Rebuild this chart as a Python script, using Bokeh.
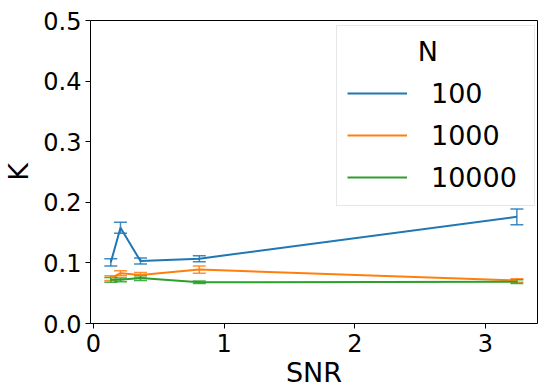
from bokeh.plotting import figure
from bokeh.models import (ColumnDataSource, Whisker, TeeHead, Legend, LegendItem,
                          FixedTicker, PrintfTickFormatter, Range1d, Label)
from bokeh.embed import file_html
from bokeh.resources import INLINE

snr = [0.133, 0.207, 0.36, 0.81, 3.24]
series_names = ["100", "1000", "10000"]
k_100 = [0.101, 0.158, 0.103, 0.107, 0.176]
k_1000 = [0.075, 0.083, 0.080, 0.089, 0.071]
k_10000 = [0.072, 0.072, 0.075, 0.068, 0.069]
err_100 = [0.006, 0.009, 0.005, 0.005, 0.013]
err_1000 = [0.004, 0.004, 0.004, 0.006, 0.003]
err_10000 = [0.004, 0.003, 0.004, 0.002, 0.003]
colors = ["#1f77b4", "#ff7f0e", "#2ca02c"]
y_ticks = [0.0, 0.1, 0.2, 0.3, 0.4, 0.5]
x_ticks = [0, 1, 2, 3]
legend_title = "N"

FONT = "DejaVu Sans"

p = figure(width=540, height=390, output_backend="svg", toolbar_location=None,
           x_range=Range1d(-0.0225, 3.398), y_range=Range1d(0.0, 0.5),
           min_border_left=81, min_border_right=3, min_border_top=20, min_border_bottom=66)
p.grid.visible = False
p.outline_line_color = "black"
p.outline_line_width = 1
p.background_fill_color = "white"
p.border_fill_color = "white"

items = []
for name, ys, es, c in zip(series_names, [k_100, k_1000, k_10000],
                           [err_100, err_1000, err_10000], colors):
    src = ColumnDataSource(dict(x=snr, y=ys,
                                lo=[y - e for y, e in zip(ys, es)],
                                hi=[y + e for y, e in zip(ys, es)]))
    r = p.line("x", "y", source=src, line_color=c, line_width=2)
    w = Whisker(base="x", upper="hi", lower="lo", source=src,
                line_color=c, line_width=1.5, line_alpha=0.85,
                upper_head=TeeHead(size=13, line_color=c, line_width=1.5, line_alpha=0.85),
                lower_head=TeeHead(size=13, line_color=c, line_width=1.5, line_alpha=0.85))
    p.add_layout(w)
    items.append(LegendItem(label=name, renderers=[r]))

for ax in (p.xaxis[0], p.yaxis[0]):
    ax.major_label_text_font = FONT
    ax.major_label_text_font_size = "24px"
    ax.major_label_text_color = "black"
    ax.axis_label_text_font = FONT
    ax.axis_label_text_font_size = "27px"
    ax.axis_label_text_font_style = "normal"
    ax.axis_label_text_color = "black"
    ax.major_tick_out = 5
    ax.major_tick_in = 0
    ax.minor_tick_out = 0
    ax.minor_tick_in = 0
    ax.axis_line_color = None
    ax.major_tick_line_color = "black"

p.xaxis[0].axis_label = "SNR"
p.yaxis[0].axis_label = "K"
p.xaxis[0].ticker = FixedTicker(ticks=x_ticks)
p.yaxis[0].ticker = FixedTicker(ticks=y_ticks)
p.xaxis[0].formatter = PrintfTickFormatter(format="%d")
p.yaxis[0].formatter = PrintfTickFormatter(format="%.1f")
p.xaxis[0].major_label_standoff = 5
p.yaxis[0].major_label_standoff = 4
p.xaxis[0].axis_label_standoff = 2
p.yaxis[0].axis_label_standoff = 6

legend = Legend(items=items, location=(246, 117), title="\u00a0",
                title_text_font=FONT, title_text_font_size="27px",
                title_text_font_style="normal", title_standoff=8,
                label_text_font=FONT, label_text_font_size="27px",
                label_text_color="black",
                glyph_width=60, glyph_height=36, label_height=36, label_width=93,
                label_standoff=24, spacing=6, padding=10, margin=0,
                border_line_color="#d0d0d0", border_line_width=1.5,
                background_fill_alpha=0.0)
p.add_layout(legend, "center")

title_label = Label(x=2.558, y=0.449, text=legend_title, text_font=FONT,
                    text_font_size="27px", text_color="black",
                    text_align="center", text_baseline="middle", level="overlay")
p.add_layout(title_label)

open("out.html", "w").write(file_html(p, INLINE))
